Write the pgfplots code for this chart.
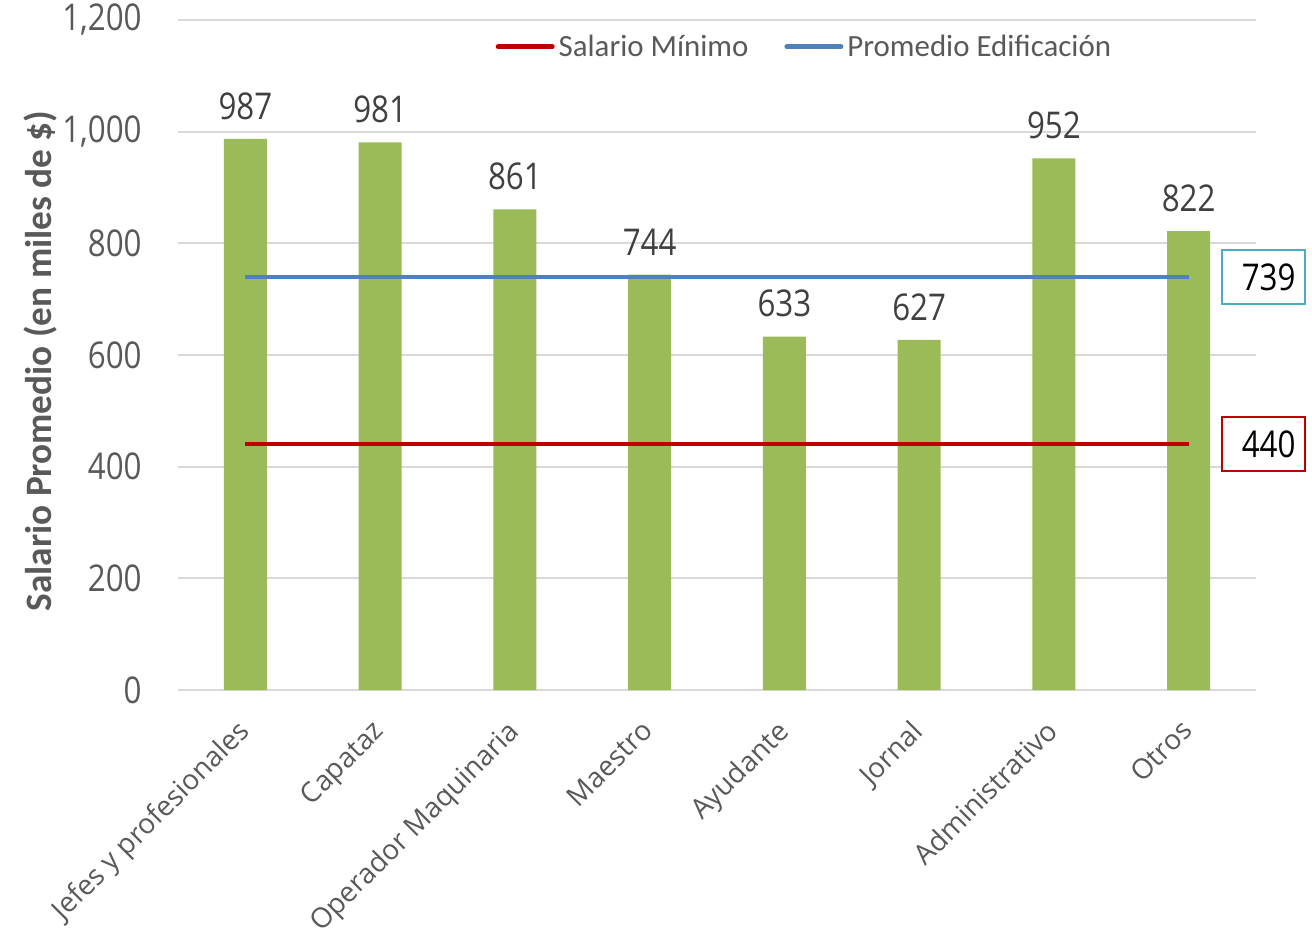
\documentclass[border=0pt]{standalone}
\usepackage{fontspec}
\setmainfont{Open Sans}
\newfontfamily\tickfont[FakeStretch=0.85]{Open Sans}
\newfontfamily\catfont{Open Sans}
\newfontfamily\labfont{Carlito}
\usepackage{pgfplots}
\pgfplotsset{compat=1.18}
\definecolor{barg}{HTML}{9BBB59}
\definecolor{minred}{HTML}{C00000}
\definecolor{avgblue}{HTML}{4F81BD}
\definecolor{boxcyan}{HTML}{4BACC6}
\definecolor{gridc}{HTML}{D9D9D9}
\definecolor{txt}{HTML}{595959}
\definecolor{dlab}{HTML}{404040}
\begin{document}
\begin{tikzpicture}
\begin{axis}[
    scale only axis, width=539bp, height=335bp,
    clip=false,
    xmin=-0.5, xmax=7.5, ymin=0, ymax=1200,
    ytick={0,200,...,1200},
    xtick={0,...,7},
    xticklabels={Jefes y profesionales, Capataz, Operador Maquinaria, Maestro, Ayudante, Jornal, Administrativo, Otros},
    axis line style={draw=none},
    major tick length=0pt,
    ymajorgrids, grid style={gridc, line width=0.9bp},
    /pgf/number format/assume math mode=true,
    /pgf/number format/1000 sep={,},
    yticklabel style={font=\tickfont\fontsize{18.5}{20}\selectfont, text=txt, inner sep=0pt, xshift=-18bp},
    xticklabel style={font=\catfont\fontsize{14}{16}\selectfont, text=txt, rotate=45, anchor=north east, inner sep=0pt, xshift=-13bp, yshift=-6.5bp},
    ylabel={Salario Promedio (en miles de \$)},
    ylabel style={font=\labfont\bfseries\fontsize{18.7}{20}\selectfont, text=txt, at={([xshift=-69bp,yshift=-3bp]axis description cs:0,0.5)}, anchor=center},
    legend style={at={(0.582,0.96)}, anchor=center, draw=none, fill=none,
        font=\labfont\fontsize{15.5}{17}\selectfont, text=txt, legend columns=2,
        /tikz/every even column/.append style={column sep=16bp}},
    legend cell align=left,
    legend image code/.code={\draw[#1, line width=2.5bp, line cap=round] (0bp,0bp) -- (27bp,0bp);},
]
\addplot[ybar, bar width=21.5bp, fill=barg, draw=none, forget plot,
    nodes near coords,
    nodes near coords style={font=\tickfont\fontsize{18.5}{20}\selectfont, text=dlab, anchor=south, inner sep=0pt, yshift=9.5bp}]
    coordinates {(0,987) (1,981) (2,861) (3,744) (4,633) (5,627) (6,952) (7,822)};
\addplot[minred, line width=2bp] coordinates {(0,440) (7,440)};
\addlegendentry{Salario Mínimo}
\addplot[avgblue, line width=2bp] coordinates {(0,739) (7,739)};
\addlegendentry{Promedio Edificación}
\node[draw=boxcyan, line width=1bp, fill=white, minimum width=41.5bp, minimum height=27bp, inner sep=0pt, font=\tickfont\fontsize{18.5}{20}\selectfont] at ([xshift=37.5bp]axis cs:7,739) {\hspace*{5bp}739};
\node[draw=minred, line width=1bp, fill=white, minimum width=41.5bp, minimum height=27bp, inner sep=0pt, font=\tickfont\fontsize{18.5}{20}\selectfont] at ([xshift=37.5bp]axis cs:7,440) {\hspace*{5bp}440};
\end{axis}
\pgfresetboundingbox
\path[use as bounding box] (-89bp,-119.5bp) rectangle (567bp,345bp);
\end{tikzpicture}
\end{document}
